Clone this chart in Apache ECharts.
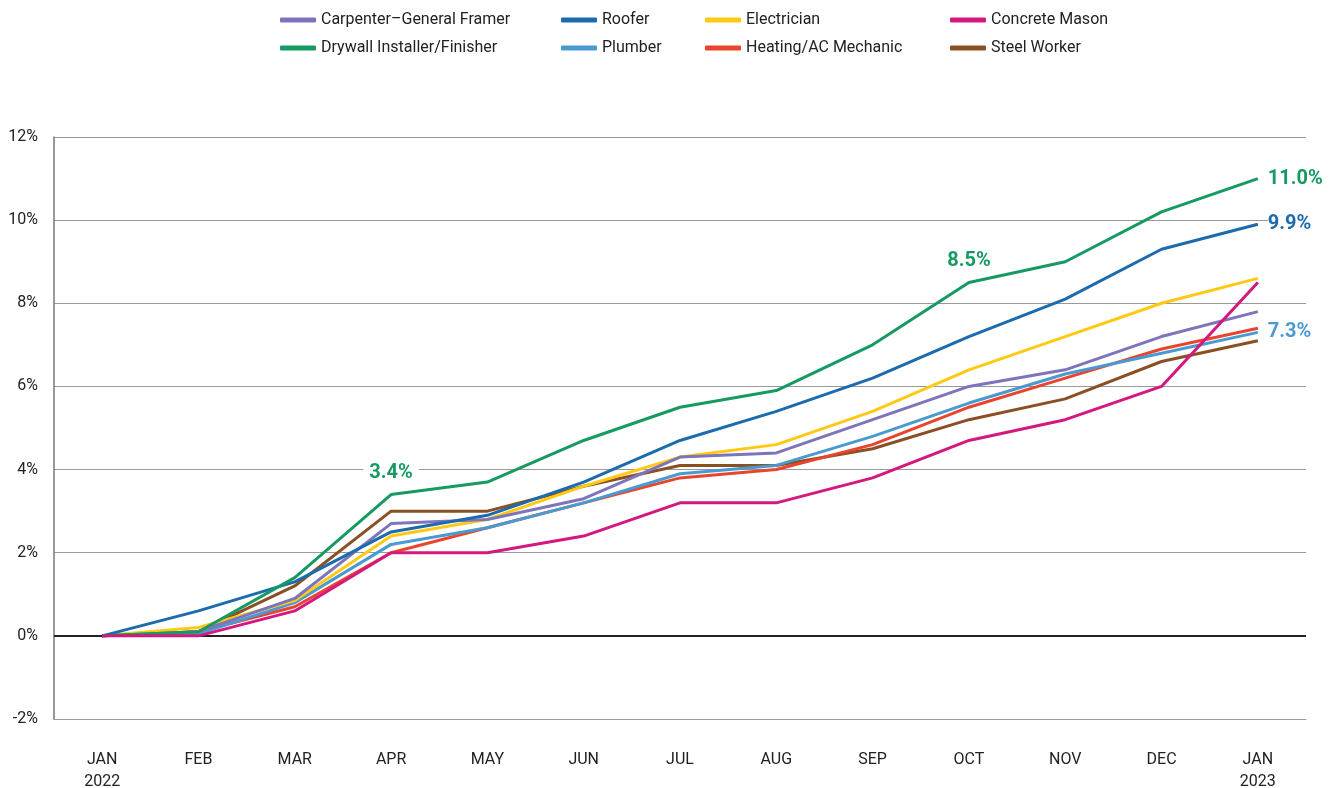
<!DOCTYPE html>
<html>
<head>
<meta charset="utf-8">
<title>Construction wage growth</title>
<script src="https://cdn.jsdelivr.net/npm/echarts@6/dist/echarts.min.js"></script>
<style>
  html, body { margin: 0; padding: 0; background: #fff; }
  #chart { width: 1335px; height: 788px; }
</style>
</head>
<body>
<div id="chart"></div>
<script>
// x categories
const months = ['JAN\n2022', 'FEB', 'MAR', 'APR', 'MAY', 'JUN', 'JUL', 'AUG', 'SEP', 'OCT', 'NOV', 'DEC', 'JAN\n2023']

// cumulative change since Jan 2022, percent
const carpenter = [0, 0.1, 0.9, 2.7, 2.8, 3.3, 4.3, 4.4, 5.2, 6.0, 6.4, 7.2, 7.8]
const drywall = [0, 0.1, 1.4, 3.4, 3.7, 4.7, 5.5, 5.9, 7.0, 8.5, 9.0, 10.2, 11.0]
const roofer = [0, 0.6, 1.3, 2.5, 2.9, 3.7, 4.7, 5.4, 6.2, 7.2, 8.1, 9.3, 9.9]
const plumber = [0, 0.05, 0.8, 2.2, 2.6, 3.2, 3.9, 4.1, 4.8, 5.6, 6.3, 6.8, 7.3]
const electrician = [0, 0.2, 0.85, 2.4, 2.8, 3.6, 4.3, 4.6, 5.4, 6.4, 7.2, 8.0, 8.6]
const heating = [0, 0.1, 0.7, 2.0, 2.6, 3.2, 3.8, 4.0, 4.6, 5.5, 6.2, 6.9, 7.4]
const concrete = [0, 0, 0.6, 2.0, 2.0, 2.4, 3.2, 3.2, 3.8, 4.7, 5.2, 6.0, 8.5]
const steel = [0, 0.1, 1.2, 3.0, 3.0, 3.6, 4.1, 4.1, 4.5, 5.2, 5.7, 6.6, 7.1]

const yTicks = [-2, 0, 2, 4, 6, 8, 10, 12]

const FONT = 'Roboto, "Liberation Sans", sans-serif'

// drawing order: later ones on top
const seriesDefs = [
  { name: 'Steel Worker', data: steel, color: '#8B4F24' },
  { name: 'Heating/AC Mechanic', data: heating, color: '#E8452D' },
  { name: 'Plumber', data: plumber, color: '#4A9AD2' },
  { name: 'Electrician', data: electrician, color: '#FFC914' },
  { name: 'Carpenter–General Framer', data: carpenter, color: '#7D74BB' },
  { name: 'Roofer', data: roofer, color: '#1B6BAD' },
  { name: 'Drywall Installer/Finisher', data: drywall, color: '#179A62' },
  { name: 'Concrete Mason', data: concrete, color: '#D3187F' }
]

// callouts on chosen points
const callouts = [
  { name: 'Drywall Installer/Finisher', index: 3, position: 'top' },
  { name: 'Drywall Installer/Finisher', index: 9, position: 'top' },
  { name: 'Drywall Installer/Finisher', index: 12, position: 'right' },
  { name: 'Roofer', index: 12, position: 'right' },
  { name: 'Plumber', index: 12, position: 'right' }
]

const chart = echarts.init(document.getElementById('chart'))

const series = seriesDefs.map(s => {
  const data = s.data.map((v, i) => {
    const c = callouts.find(c => c.name === s.name && c.index === i)
    if (!c) return v
    return {
      value: v,
      label: {
        show: true,
        position: c.position,
        distance: c.position === 'top' ? 12 : 10,
        formatter: p => p.value.toFixed(1) + '%',
        color: s.color,
        fontFamily: FONT,
        fontWeight: 'bold',
        fontSize: 20,
        backgroundColor: '#fff',
        padding: c.position === 'top' ? [0, 6] : 0
      }
    }
  })
  return {
    name: s.name,
    type: 'line',
    data: data,
    color: s.color,
    symbol: 'circle',
    symbolSize: 0,
    showSymbol: true,
    lineStyle: { width: 3, color: s.color },
    emphasis: { disabled: true }
  }
})

// black zero line
series[0].markLine = {
  silent: true,
  symbol: 'none',
  label: { show: false },
  lineStyle: { color: '#222', width: 2, type: 'solid' },
  data: [{ yAxis: 0 }],
  z: 1
}

const legendCols = [
  { left: 280, data: ['Carpenter–General Framer', 'Drywall Installer/Finisher'] },
  { left: 561, data: ['Roofer', 'Plumber'] },
  { left: 705, data: ['Electrician', 'Heating/AC Mechanic'] },
  { left: 950, data: ['Concrete Mason', 'Steel Worker'] }
]

const option = {
  animation: false,
  backgroundColor: '#fff',
  legend: legendCols.map(col => ({
    orient: 'vertical',
    left: col.left,
    top: 12,
    padding: 0,
    data: col.data,
    icon: 'roundRect',
    itemWidth: 36,
    itemHeight: 5,
    itemGap: 12,
    selectedMode: false,
    textStyle: { fontFamily: FONT, fontSize: 16, color: '#222' }
  })),
  grid: { left: 54, right: 29, top: 137, bottom: 69, outerBoundsMode: 'none' },
  xAxis: {
    type: 'category',
    data: months,
    boundaryGap: true,
    axisLine: { onZero: false, lineStyle: { color: '#999', width: 1 } },
    axisTick: { show: false },
    axisLabel: {
      interval: 0,
      margin: 30,
      color: '#222',
      fontFamily: FONT,
      fontSize: 16,
      lineHeight: 22
    }
  },
  yAxis: {
    type: 'value',
    min: yTicks[0],
    max: yTicks[yTicks.length - 1],
    interval: 2,
    axisLine: { show: true, lineStyle: { color: '#777', width: 1.5 } },
    axisTick: { show: false },
    axisLabel: {
      formatter: '{value}%',
      margin: 16,
      color: '#222',
      fontFamily: FONT,
      fontSize: 16
    },
    splitLine: { lineStyle: { color: '#999', width: 1 } }
  },
  series: series
}

chart.setOption(option)
</script>
</body>
</html>
